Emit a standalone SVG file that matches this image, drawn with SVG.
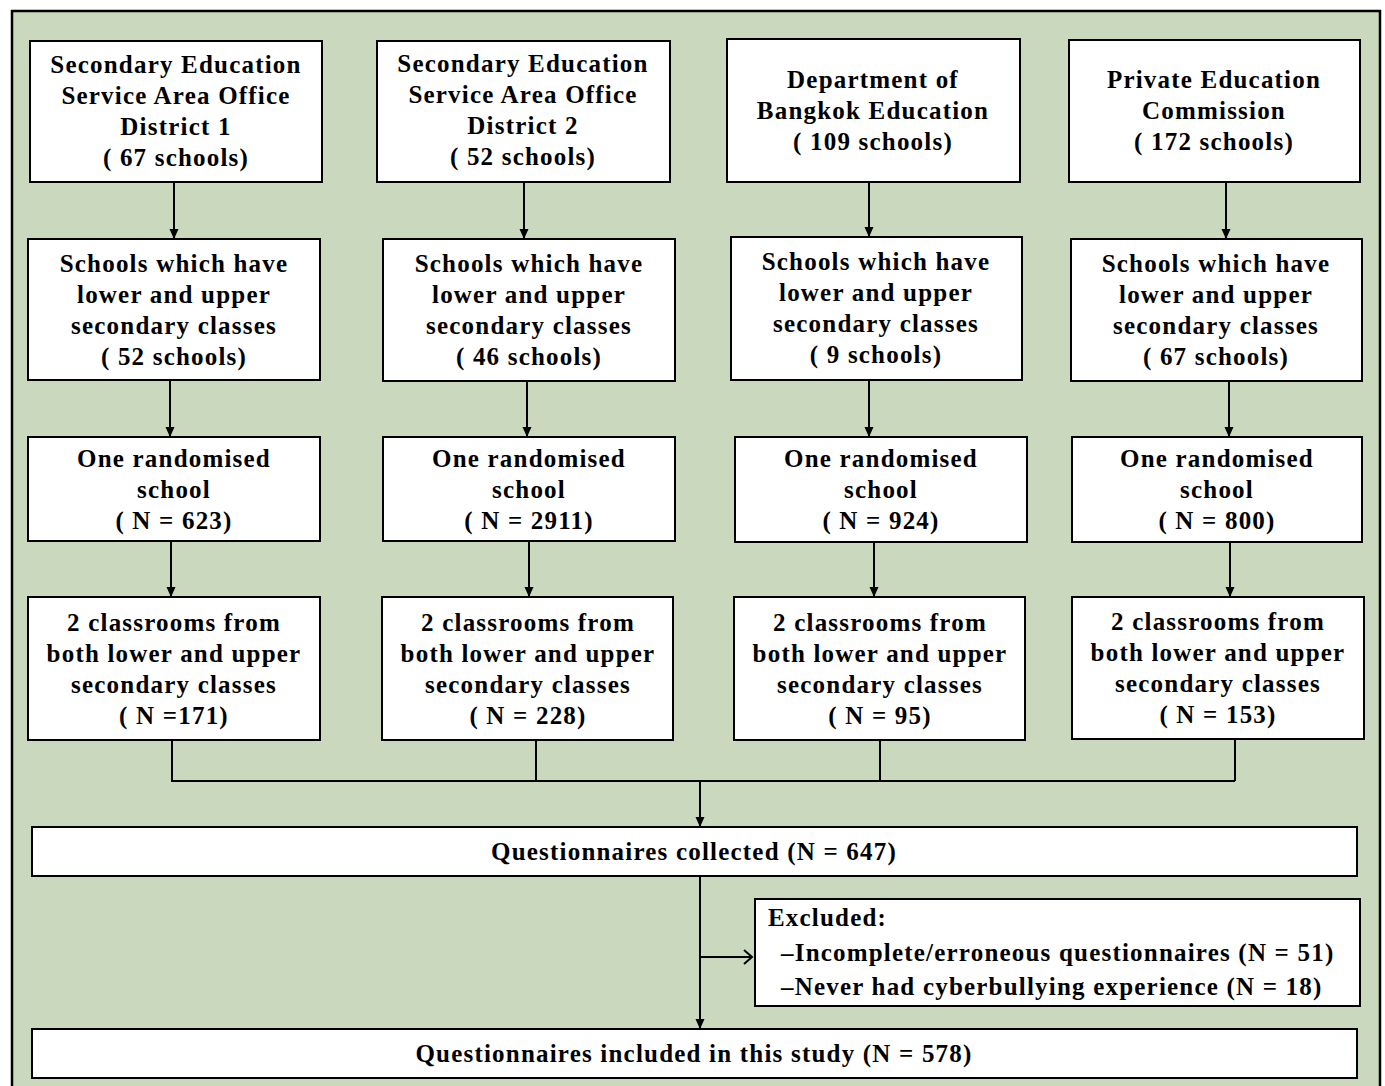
<svg xmlns="http://www.w3.org/2000/svg" width="1385" height="1086" viewBox="0 0 1385 1086">
<style>
.bg{fill:#cad9bd;stroke:#000;stroke-width:2.5}
.box{fill:#fff;stroke:#000;stroke-width:2}
text{font-family:"Liberation Serif","Times New Roman",serif;font-weight:bold;font-size:25px;letter-spacing:1.2px;fill:#000}
.c{text-anchor:middle}
.ln{fill:none;stroke:#000;stroke-width:2}
</style>
<defs>
<marker id="ah" markerWidth="10" markerHeight="10" refX="9" refY="5" orient="auto" markerUnits="userSpaceOnUse">
<path d="M0,0.5 L10,5 L0,9.5 Z" fill="#000"/>
</marker>
<marker id="oh" markerWidth="12" markerHeight="16" refX="10" refY="8" orient="auto" markerUnits="userSpaceOnUse">
<path d="M2,1 L10,8 L2,15" fill="none" stroke="#000" stroke-width="2"/>
</marker>
</defs>
<rect class="bg" x="12" y="11" width="1368" height="1080"/>

<g id="connectors">
<line class="ln" x1="174" y1="182" x2="174" y2="238" marker-end="url(#ah)"/>
<line class="ln" x1="524" y1="182" x2="524" y2="238" marker-end="url(#ah)"/>
<line class="ln" x1="869" y1="182" x2="869" y2="236" marker-end="url(#ah)"/>
<line class="ln" x1="1226" y1="182" x2="1226" y2="238" marker-end="url(#ah)"/>

<line class="ln" x1="170" y1="380" x2="170" y2="436" marker-end="url(#ah)"/>
<line class="ln" x1="527" y1="381" x2="527" y2="436" marker-end="url(#ah)"/>
<line class="ln" x1="869" y1="380" x2="869" y2="436" marker-end="url(#ah)"/>
<line class="ln" x1="1229" y1="381" x2="1229" y2="436" marker-end="url(#ah)"/>

<line class="ln" x1="171" y1="541" x2="171" y2="596" marker-end="url(#ah)"/>
<line class="ln" x1="529" y1="541" x2="529" y2="596" marker-end="url(#ah)"/>
<line class="ln" x1="874" y1="542" x2="874" y2="596" marker-end="url(#ah)"/>
<line class="ln" x1="1230" y1="542" x2="1230" y2="596" marker-end="url(#ah)"/>

<polyline class="ln" points="172,740 172,781 1235,781"/>
<line class="ln" x1="536" y1="740" x2="536" y2="781"/>
<line class="ln" x1="880" y1="740" x2="880" y2="781"/>
<line class="ln" x1="1235" y1="740" x2="1235" y2="781"/>
<line class="ln" x1="700" y1="781" x2="700" y2="826" marker-end="url(#ah)"/>

<line class="ln" x1="700" y1="876" x2="700" y2="1028" marker-end="url(#ah)"/>
<line class="ln" x1="700" y1="957" x2="752" y2="957" marker-end="url(#oh)"/>
</g>

<g id="n1a"><rect class="box" x="30" y="41" width="292" height="141"/>
<text class="c" x="176" y="73">Secondary Education</text><text class="c" x="176" y="104">Service Area Office</text><text class="c" x="176" y="135">District 1</text><text class="c" x="176" y="166">( 67 schools)</text></g>
<g id="n1b"><rect class="box" x="377" y="41" width="293" height="141"/>
<text class="c" x="523" y="72">Secondary Education</text><text class="c" x="523" y="103">Service Area Office</text><text class="c" x="523" y="134">District 2</text><text class="c" x="523" y="165">( 52 schools)</text></g>
<g id="n1c"><rect class="box" x="727" y="39" width="293" height="143"/>
<text class="c" x="873" y="88">Department of</text><text class="c" x="873" y="119">Bangkok Education</text><text class="c" x="873" y="150">( 109 schools)</text></g>
<g id="n1d"><rect class="box" x="1069" y="40" width="291" height="142"/>
<text class="c" x="1214" y="88">Private Education</text><text class="c" x="1214" y="119">Commission</text><text class="c" x="1214" y="150">( 172 schools)</text></g>

<g id="n2a"><rect class="box" x="28" y="239" width="292" height="141"/>
<text class="c" x="174" y="272">Schools which have</text><text class="c" x="174" y="303">lower and upper</text><text class="c" x="174" y="334">secondary classes</text><text class="c" x="174" y="365">( 52 schools)</text></g>
<g id="n2b"><rect class="box" x="383" y="239" width="292" height="142"/>
<text class="c" x="529" y="272">Schools which have</text><text class="c" x="529" y="303">lower and upper</text><text class="c" x="529" y="334">secondary classes</text><text class="c" x="529" y="365">( 46 schools)</text></g>
<g id="n2c"><rect class="box" x="731" y="237" width="291" height="143"/>
<text class="c" x="876" y="270">Schools which have</text><text class="c" x="876" y="301">lower and upper</text><text class="c" x="876" y="332">secondary classes</text><text class="c" x="876" y="363">( 9 schools)</text></g>
<g id="n2d"><rect class="box" x="1071" y="239" width="291" height="142"/>
<text class="c" x="1216" y="272">Schools which have</text><text class="c" x="1216" y="303">lower and upper</text><text class="c" x="1216" y="334">secondary classes</text><text class="c" x="1216" y="365">( 67 schools)</text></g>

<g id="n3a"><rect class="box" x="28" y="437" width="292" height="104"/>
<text class="c" x="174" y="467">One randomised</text><text class="c" x="174" y="498">school</text><text class="c" x="174" y="529">( N = 623)</text></g>
<g id="n3b"><rect class="box" x="383" y="437" width="292" height="104"/>
<text class="c" x="529" y="467">One randomised</text><text class="c" x="529" y="498">school</text><text class="c" x="529" y="529">( N = 2911)</text></g>
<g id="n3c"><rect class="box" x="735" y="437" width="292" height="105"/>
<text class="c" x="881" y="467">One randomised</text><text class="c" x="881" y="498">school</text><text class="c" x="881" y="529">( N = 924)</text></g>
<g id="n3d"><rect class="box" x="1072" y="437" width="290" height="105"/>
<text class="c" x="1217" y="467">One randomised</text><text class="c" x="1217" y="498">school</text><text class="c" x="1217" y="529">( N = 800)</text></g>

<g id="n4a"><rect class="box" x="28" y="597" width="292" height="143"/>
<text class="c" x="174" y="631">2 classrooms from</text><text class="c" x="174" y="662">both lower and upper</text><text class="c" x="174" y="693">secondary classes</text><text class="c" x="174" y="724">( N =171)</text></g>
<g id="n4b"><rect class="box" x="382" y="597" width="291" height="143"/>
<text class="c" x="528" y="631">2 classrooms from</text><text class="c" x="528" y="662">both lower and upper</text><text class="c" x="528" y="693">secondary classes</text><text class="c" x="528" y="724">( N = 228)</text></g>
<g id="n4c"><rect class="box" x="734" y="597" width="291" height="143"/>
<text class="c" x="880" y="631">2 classrooms from</text><text class="c" x="880" y="662">both lower and upper</text><text class="c" x="880" y="693">secondary classes</text><text class="c" x="880" y="724">( N = 95)</text></g>
<g id="n4d"><rect class="box" x="1072" y="597" width="292" height="142"/>
<text class="c" x="1218" y="630">2 classrooms from</text><text class="c" x="1218" y="661">both lower and upper</text><text class="c" x="1218" y="692">secondary classes</text><text class="c" x="1218" y="723">( N = 153)</text></g>

<g id="collected"><rect class="box" x="32" y="827" width="1325" height="49"/>
<text class="c" x="694" y="860">Questionnaires collected (N = 647)</text></g>
<g id="excluded"><rect class="box" x="755" y="899" width="605" height="107"/>
<text x="768" y="926">Excluded:</text><text x="781" y="961">–Incomplete/erroneous questionnaires (N = 51)</text><text x="781" y="995">–Never had cyberbullying experience (N = 18)</text></g>
<g id="included"><rect class="box" x="32" y="1029" width="1325" height="49"/>
<text class="c" x="694" y="1062">Questionnaires included in this study (N = 578)</text></g>
</svg>
